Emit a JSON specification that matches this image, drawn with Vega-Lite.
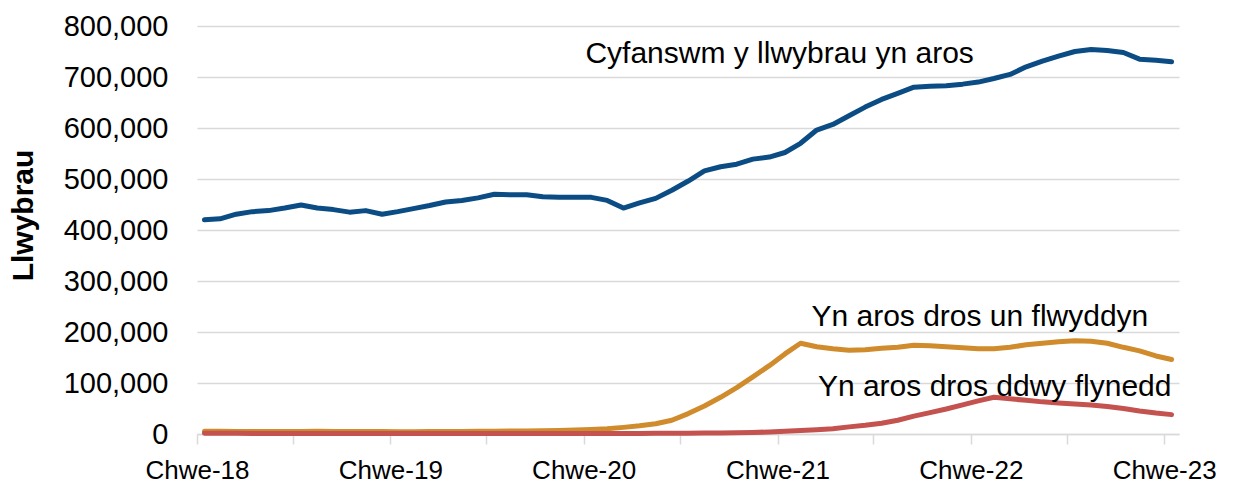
{
  "$schema": "https://vega.github.io/schema/vega-lite/v6.json",
  "width": 982,
  "height": 408,
  "autosize": {"type": "none"},
  "padding": {"left": 197, "top": 26, "right": 55, "bottom": 50},
  "background": "white",
  "config": {"view": {"stroke": null}, "font": "Liberation Sans"},
  "datasets": {
    "series": [
      {"month": "2018-02", "total": 420000, "over1": 5200, "over2": 1500},
      {"month": "2018-03", "total": 422000, "over1": 5300, "over2": 1400},
      {"month": "2018-04", "total": 431000, "over1": 5100, "over2": 1300},
      {"month": "2018-05", "total": 436000, "over1": 4900, "over2": 1200},
      {"month": "2018-06", "total": 438000, "over1": 4700, "over2": 1200},
      {"month": "2018-07", "total": 443000, "over1": 4900, "over2": 1100},
      {"month": "2018-08", "total": 449000, "over1": 5100, "over2": 1100},
      {"month": "2018-09", "total": 443000, "over1": 5300, "over2": 1000},
      {"month": "2018-10", "total": 440000, "over1": 5000, "over2": 1000},
      {"month": "2018-11", "total": 435000, "over1": 4800, "over2": 1000},
      {"month": "2018-12", "total": 438000, "over1": 4900, "over2": 1000},
      {"month": "2019-01", "total": 431000, "over1": 4700, "over2": 1000},
      {"month": "2019-02", "total": 436000, "over1": 4600, "over2": 1000},
      {"month": "2019-03", "total": 442000, "over1": 4600, "over2": 1000},
      {"month": "2019-04", "total": 448000, "over1": 4700, "over2": 1000},
      {"month": "2019-05", "total": 455000, "over1": 4900, "over2": 1000},
      {"month": "2019-06", "total": 458000, "over1": 5100, "over2": 1000},
      {"month": "2019-07", "total": 463000, "over1": 5300, "over2": 1000},
      {"month": "2019-08", "total": 470000, "over1": 5600, "over2": 1000},
      {"month": "2019-09", "total": 469000, "over1": 5900, "over2": 1000},
      {"month": "2019-10", "total": 469000, "over1": 6100, "over2": 1000},
      {"month": "2019-11", "total": 465000, "over1": 6400, "over2": 1000},
      {"month": "2019-12", "total": 464000, "over1": 7000, "over2": 1000},
      {"month": "2020-01", "total": 464000, "over1": 8000, "over2": 1100},
      {"month": "2020-02", "total": 464000, "over1": 9000, "over2": 1100},
      {"month": "2020-03", "total": 458000, "over1": 10500, "over2": 1100},
      {"month": "2020-04", "total": 443000, "over1": 13000, "over2": 1200},
      {"month": "2020-05", "total": 453000, "over1": 16000, "over2": 1200},
      {"month": "2020-06", "total": 462000, "over1": 20000, "over2": 1300},
      {"month": "2020-07", "total": 478000, "over1": 27000, "over2": 1400},
      {"month": "2020-08", "total": 496000, "over1": 40000, "over2": 1500},
      {"month": "2020-09", "total": 516000, "over1": 55000, "over2": 1800},
      {"month": "2020-10", "total": 524000, "over1": 72000, "over2": 2000},
      {"month": "2020-11", "total": 529000, "over1": 91000, "over2": 2500},
      {"month": "2020-12", "total": 539000, "over1": 112000, "over2": 3000},
      {"month": "2021-01", "total": 543000, "over1": 134000, "over2": 4000},
      {"month": "2021-02", "total": 552000, "over1": 157000, "over2": 5500},
      {"month": "2021-03", "total": 570000, "over1": 178000, "over2": 7000},
      {"month": "2021-04", "total": 596000, "over1": 171000, "over2": 8500},
      {"month": "2021-05", "total": 607000, "over1": 167000, "over2": 10500},
      {"month": "2021-06", "total": 624000, "over1": 164000, "over2": 14000},
      {"month": "2021-07", "total": 641000, "over1": 165000, "over2": 17000},
      {"month": "2021-08", "total": 656000, "over1": 168000, "over2": 21000},
      {"month": "2021-09", "total": 668000, "over1": 170000, "over2": 27000},
      {"month": "2021-10", "total": 680000, "over1": 174000, "over2": 35000},
      {"month": "2021-11", "total": 682000, "over1": 173000, "over2": 42000},
      {"month": "2021-12", "total": 683000, "over1": 171000, "over2": 49000},
      {"month": "2022-01", "total": 686000, "over1": 169000, "over2": 57000},
      {"month": "2022-02", "total": 690000, "over1": 167000, "over2": 65000},
      {"month": "2022-03", "total": 697000, "over1": 167000, "over2": 72000},
      {"month": "2022-04", "total": 705000, "over1": 170000, "over2": 69000},
      {"month": "2022-05", "total": 720000, "over1": 175000, "over2": 66000},
      {"month": "2022-06", "total": 731000, "over1": 178000, "over2": 63000},
      {"month": "2022-07", "total": 741000, "over1": 181000, "over2": 61000},
      {"month": "2022-08", "total": 750000, "over1": 183000, "over2": 59000},
      {"month": "2022-09", "total": 754000, "over1": 182000, "over2": 57000},
      {"month": "2022-10", "total": 752000, "over1": 178000, "over2": 54000},
      {"month": "2022-11", "total": 748000, "over1": 170000, "over2": 50000},
      {"month": "2022-12", "total": 735000, "over1": 163000, "over2": 45000},
      {"month": "2023-01", "total": 733000, "over1": 153000, "over2": 41000},
      {"month": "2023-02", "total": 730000, "over1": 146000, "over2": 38000}
    ],
    "labels": [
      {"date": "2021-02-05", "value": 727000, "label": "Cyfanswm y llwybrau yn aros"},
      {"date": "2022-02-18", "value": 212000, "label": "Yn aros dros un flwyddyn"},
      {"date": "2022-03-18", "value": 74500, "label": "Yn aros dros ddwy flynedd"}
    ]
  },
  "layer": [
    {
      "data": {"name": "series"},
      "transform": [{"fold": ["total", "over1", "over2"], "as": ["series", "value"]}],
      "mark": {"type": "line", "strokeWidth": 5, "strokeCap": "round", "strokeJoin": "round"},
      "encoding": {
        "x": {
          "field": "month",
          "timeUnit": "utcyearmonth",
          "type": "temporal",
          "bandPosition": 0.5,
          "scale": {
            "type": "utc",
            "domain": [
              {"year": 2018, "month": 2, "date": 1, "utc": true},
              {"year": 2023, "month": 3, "date": 1, "utc": true}
            ]
          },
          "axis": {
            "values": [
              {"year": 2018, "month": 2, "date": 1, "utc": true},
              {"year": 2018, "month": 8, "date": 1, "utc": true},
              {"year": 2019, "month": 2, "date": 1, "utc": true},
              {"year": 2019, "month": 8, "date": 1, "utc": true},
              {"year": 2020, "month": 2, "date": 1, "utc": true},
              {"year": 2020, "month": 8, "date": 1, "utc": true},
              {"year": 2021, "month": 2, "date": 1, "utc": true},
              {"year": 2021, "month": 8, "date": 1, "utc": true},
              {"year": 2022, "month": 2, "date": 1, "utc": true},
              {"year": 2022, "month": 8, "date": 1, "utc": true},
              {"year": 2023, "month": 2, "date": 1, "utc": true}
            ],
            "labelExpr": "utcmonth(datum.value) == 1 ? 'Chwe-' + utcFormat(datum.value, '%y') : ''",
            "title": null,
            "grid": false,
            "domainColor": "#d9d9d9",
            "domainWidth": 1.5,
            "tickColor": "#d9d9d9",
            "tickWidth": 1.5,
            "tickSize": 10,
            "labelFontSize": 26,
            "labelColor": "black",
            "labelPadding": 13,
            "labelOverlap": false,
            "labelFlush": false
          }
        },
        "y": {
          "field": "value",
          "type": "quantitative",
          "scale": {"domain": [0, 800000]},
          "axis": {
            "values": [0, 100000, 200000, 300000, 400000, 500000, 600000, 700000, 800000],
            "labelExpr": "format(datum.value, ',.0f')",
            "title": "Llwybrau",
            "titleFontSize": 30,
            "titleFontWeight": "bold",
            "titleColor": "black",
            "titleX": -174,
            "titleY": 189,
            "titleAlign": "center",
            "titleBaseline": "middle",
            "titleAngle": -90,
            "domain": false,
            "ticks": false,
            "tickSize": 0,
            "labelPadding": 29,
            "labelFontSize": 29,
            "labelColor": "black",
            "grid": true,
            "gridColor": "#d9d9d9",
            "gridWidth": 1.5
          }
        },
        "color": {
          "field": "series",
          "type": "nominal",
          "scale": {"domain": ["total", "over1", "over2"], "range": ["#0b4c84", "#d08b2c", "#c4524f"]},
          "legend": null
        }
      }
    },
    {
      "data": {"name": "labels"},
      "mark": {"type": "text", "fontSize": 30, "align": "center", "baseline": "alphabetic", "color": "black"},
      "encoding": {
        "x": {"field": "date", "type": "temporal"},
        "y": {"field": "value", "type": "quantitative"},
        "text": {"field": "label"}
      }
    }
  ]
}
